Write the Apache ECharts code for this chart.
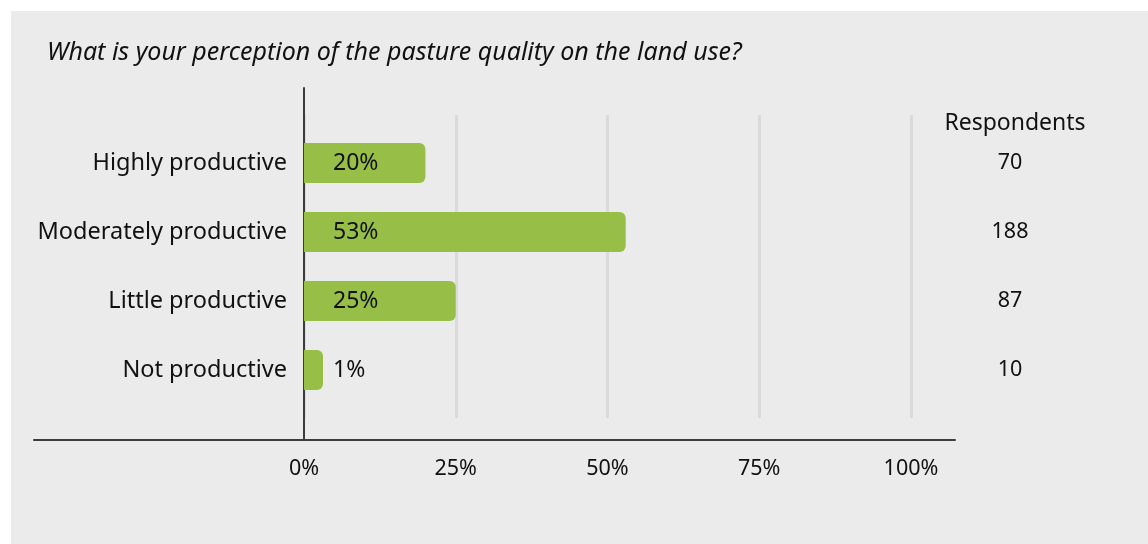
<!DOCTYPE html>
<html>
<head>
<meta charset="utf-8">
<script src="https://cdn.jsdelivr.net/npm/echarts@6/dist/echarts.min.js"></script>
<style>
html,body{margin:0;padding:0;background:#ffffff;}
#chart{position:absolute;left:11px;top:11px;width:1137px;height:533px;}
</style>
</head>
<body>
<div id="chart"></div>
<script>
const titleText = 'What is your perception of the pasture quality on the land use?';
const categories = ['Highly productive', 'Moderately productive', 'Little productive', 'Not productive'];
const shares = [20, 53, 25, 1];
const respondents = [70, 188, 87, 10];
const respondentsHeader = 'Respondents';
const tickValues = [0, 25, 50, 75, 100];

const FONT = 'Noto Sans';
const OX = 11, OY = 11; // panel offset
const chart = echarts.init(document.getElementById('chart'));
const W = 1137, H = 533;
const axisL = 304 - OX, axisR = 911 - OX;

chart.setOption({
  backgroundColor: '#ebebeb',
  animation: false,
  textStyle: { fontFamily: FONT },
  title: [
    { text: titleText, left: 42 - OX, top: 35 - OY,
      textStyle: { fontFamily: FONT, fontStyle: 'italic', fontWeight: 'normal', fontSize: 25, color: '#111' } },
    { text: respondentsHeader, left: 1010 - OX, top: 107 - OY, textAlign: 'center',
      textStyle: { fontFamily: FONT, fontWeight: 'normal', fontSize: 23, color: '#111' } }
  ],
  grid: [
    { left: axisL, right: W - axisR, top: 128.5 - OY, bottom: H - (404.5 - OY) },
    { left: axisL, right: W - axisR, top: 115 - OY, bottom: H - (418 - OY) },
    { left: 34 - OX, right: W - (955 - OX), top: 88 - OY, bottom: H - (440 - OY) },
    { left: axisL, right: W - axisR, top: 88 - OY, bottom: H - (440 - OY) }
  ],
  xAxis: [
    { gridIndex: 0, type: 'value', min: 0, max: 100, interval: 25,
      axisLine: { show: false }, axisTick: { show: false }, axisLabel: { show: false }, splitLine: { show: false } },
    { gridIndex: 1, type: 'value', min: 0, max: 100, interval: 25,
      axisLine: { show: false }, axisTick: { show: false },
      axisLabel: { show: true, margin: 40, fontSize: 21.5, color: '#111', fontFamily: FONT,
        formatter: v => tickValues.includes(v) ? v + '%' : '' },
      splitLine: { show: true, lineStyle: { color: '#dadada', width: 3 } } },
    { gridIndex: 2, type: 'value', min: 0, max: 1,
      axisLine: { show: true, lineStyle: { color: '#3c3c3c', width: 2 } }, axisTick: { show: false },
      axisLabel: { show: false }, splitLine: { show: false } },
    { gridIndex: 3, type: 'value', min: 0, max: 1, show: false }
  ],
  yAxis: [
    { gridIndex: 0, type: 'category', data: categories, inverse: true,
      axisLine: { show: false }, axisTick: { show: false },
      axisLabel: { margin: 17, fontSize: 23.5, color: '#111', fontFamily: FONT } },
    { gridIndex: 0, type: 'category', data: respondents.map(String), inverse: true, position: 'right',
      axisLine: { show: false }, axisTick: { show: false },
      axisLabel: { margin: 99, align: 'center', fontSize: 21.5, color: '#111', fontFamily: FONT } },
    { gridIndex: 1, type: 'value', show: false },
    { gridIndex: 2, type: 'value', show: false },
    { gridIndex: 3, type: 'value', min: 0, max: 1,
      axisLine: { show: true, lineStyle: { color: '#3c3c3c', width: 2 } }, axisTick: { show: false },
      axisLabel: { show: false }, splitLine: { show: false } }
  ],
  series: [{
    type: 'bar', xAxisIndex: 0, yAxisIndex: 0, data: shares,
    barWidth: 40, barMinHeight: 19,
    itemStyle: { color: '#97bf48', borderRadius: [0, 6, 6, 0] },
    label: { show: true, position: 'insideLeft', distance: 29, formatter: '{c}%',
      fontSize: 23, color: '#111', fontFamily: FONT }
  }]
});
</script>
</body>
</html>
